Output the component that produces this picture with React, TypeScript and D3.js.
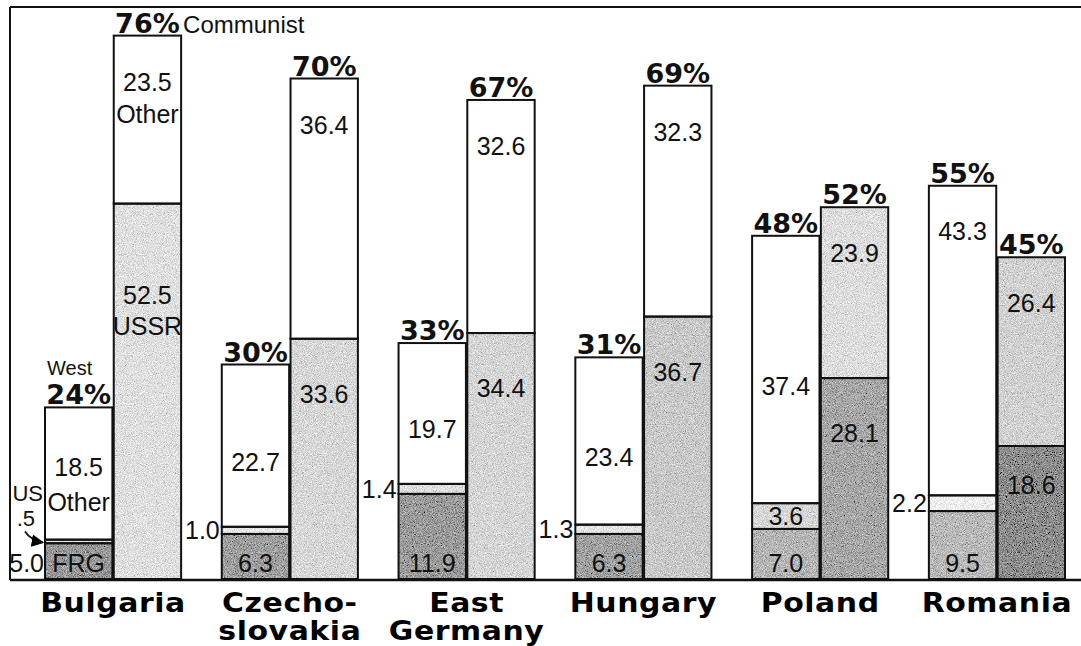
import { useEffect, useRef } from 'react';
import * as d3 from 'd3';

// trade shares (% of total), West vs Communist partners
const countries = ['Bulgaria', 'Czechoslovakia', 'East Germany', 'Hungary', 'Poland', 'Romania'];
const countryLines = [['Bulgaria'], ['Czecho-', 'slovakia'], ['East', 'Germany'], ['Hungary'], ['Poland'], ['Romania']];

const westFRG = [5.0, 6.3, 11.9, 6.3, 7.0, 9.5];
const westUS = [0.5, 1.0, 1.4, 1.3, 3.6, 2.2];
const westOther = [18.5, 22.7, 19.7, 23.4, 37.4, 43.3];
const westTotal = [24, 30, 33, 31, 48, 55];

const commUSSR = [52.5, 33.6, 34.4, 36.7, 28.1, 18.6];
const commOther = [23.5, 36.4, 32.6, 32.3, 23.9, 26.4];
const commTotal = [76, 70, 67, 69, 52, 45];

// print tones of each segment
const tones = {
  FRG: ['#9a9a9a', '#a0a0a0', '#9c9c9c', '#a2a2a2', '#b6b6b6', '#bababa'],
  US: ['#e4e4e4', '#e6e6e6', '#dedede', '#e4e4e4', '#d8d8d8', '#efefef'],
  WOther: ['#ffffff', '#ffffff', '#ffffff', '#ffffff', '#ffffff', '#ffffff'],
  USSR: ['#e0e0e0', '#d8d8d8', '#d6d6d6', '#cacaca', '#a8a8a8', '#8e8e8e'],
  COther: ['#ffffff', '#ffffff', '#ffffff', '#ffffff', '#dedede', '#d2d2d2']
};

const numFont = '"Liberation Sans", Arial, sans-serif';
const boldFont = '"DejaVu Sans", sans-serif';

function App() {
  const ref = useRef(null);

  useEffect(() => {
    const svg = d3.select(ref.current);
    svg.selectAll('*').remove();

    const fmt = d3.format('.1f');

    const x0 = d3.scaleBand().domain(countries).range([45, 1065]).paddingInner(0.23);
    const x1 = d3.scaleBand().domain(['West', 'Communist']).range([0, x0.bandwidth()]).paddingInner(0.02);
    const y = d3.scaleLinear().domain([0, 80]).range([579, 7]);

    const defs = svg.append('defs');
    const filter = defs.append('filter').attr('id', 'grain')
      .attr('x', 0).attr('y', 0).attr('width', 1).attr('height', 1);
    filter.append('feTurbulence').attr('type', 'fractalNoise').attr('baseFrequency', 1.1)
      .attr('numOctaves', 2).attr('seed', 4).attr('result', 'noise');
    filter.append('feColorMatrix').attr('in', 'noise').attr('type', 'matrix')
      .attr('values', '0.33 0.33 0.33 0 0  0.33 0.33 0.33 0 0  0.33 0.33 0.33 0 0  0 0 0 0 1')
      .attr('result', 'gray');
    filter.append('feComposite').attr('in', 'SourceGraphic').attr('in2', 'gray')
      .attr('operator', 'arithmetic').attr('k1', 0).attr('k2', 1).attr('k3', 1.5).attr('k4', -0.75);

    defs.append('marker').attr('id', 'arrow').attr('viewBox', '0 0 10 10')
      .attr('refX', 9).attr('refY', 5).attr('markerWidth', 7).attr('markerHeight', 7)
      .attr('orient', 'auto')
      .append('path').attr('d', 'M0,0 L10,5 L0,10 z').attr('fill', '#000');

    svg.append('rect').attr('width', 1081).attr('height', 646).attr('fill', '#fff');

    const westRows = countries.map((c, i) => ({ country: c, FRG: westFRG[i], US: westUS[i], WOther: westOther[i] }));
    const commRows = countries.map((c, i) => ({ country: c, USSR: commUSSR[i], COther: commOther[i] }));
    const westStack = d3.stack().keys(['FRG', 'US', 'WOther'])(westRows);
    const commStack = d3.stack().keys(['USSR', 'COther'])(commRows);

    const bars = svg.append('g');
    const drawStack = (stack, group) => {
      stack.forEach((series) => {
        series.forEach((d, i) => {
          const bx = x0(d.data.country) + x1(group);
          const tone = tones[series.key][i];
          const seg = bars.append('rect')
            .attr('x', bx).attr('y', y(d[1]))
            .attr('width', x1.bandwidth()).attr('height', y(d[0]) - y(d[1]))
            .attr('fill', tone);
          if (tone !== '#ffffff') seg.attr('filter', 'url(#grain)');
        });
      });
      stack.forEach((series) => {
        series.forEach((d) => {
          bars.append('rect')
            .attr('x', x0(d.data.country) + x1(group)).attr('y', y(d[1]))
            .attr('width', x1.bandwidth()).attr('height', y(d[0]) - y(d[1]))
            .attr('fill', 'none').attr('stroke', '#111').attr('stroke-width', 2);
        });
      });
    };
    drawStack(westStack, 'West');
    drawStack(commStack, 'Communist');

    // frame
    const frame = svg.append('g').attr('stroke', '#111').attr('stroke-width', 2);
    frame.append('line').attr('x1', 10).attr('x2', 1081).attr('y1', y(80)).attr('y2', y(80));
    frame.append('line').attr('x1', 10).attr('x2', 10).attr('y1', y(80)).attr('y2', y(0) + 1);
    frame.append('line').attr('x1', 10).attr('x2', 1081).attr('y1', y(0) + 1).attr('y2', y(0) + 1).attr('stroke-width', 2.5);

    const labels = svg.append('g').attr('font-family', numFont).attr('font-size', 25).attr('fill', '#111');
    const put = (txt, x, cy, anchor = 'middle', size = 25) =>
      labels.append('text').attr('x', x).attr('y', cy + size * 0.36)
        .attr('text-anchor', anchor).attr('font-size', size).text(txt);

    countries.forEach((c, i) => {
      const wx = x0(c) + x1('West');
      const cx = x0(c) + x1('Communist');
      const bw = x1.bandwidth();
      const wmid = wx + bw / 2;
      const cmid = cx + bw / 2;

      // West: FRG
      const frgTop = y(westFRG[i]);
      if (c === 'Bulgaria') {
        put('FRG', wmid, y(0) - 16);
        put(fmt(westFRG[i]), wx - 1, y(0) - 16, 'end');
      } else {
        put(fmt(westFRG[i]), wmid, y(0) - 16);
      }

      // West: US
      const usTop = y(westFRG[i] + westUS[i]);
      const usMid = (usTop + frgTop) / 2;
      if (c === 'Bulgaria') {
        put('US', wx - 2, usMid - 48, 'end', 22);
        put('.5', wx - 10, usMid - 23, 'end', 22);
        labels.append('path')
          .attr('d', `M${wx - 20},${usMid - 10} Q${wx - 14},${usMid - 1} ${wx - 2},${usMid + 1}`)
          .attr('fill', 'none').attr('stroke', '#111').attr('stroke-width', 1.8)
          .attr('marker-end', 'url(#arrow)');
      } else if (westUS[i] >= 3) {
        put(fmt(westUS[i]), wmid, usMid);
      } else {
        put(fmt(westUS[i]), wx - 2, usMid, 'end');
      }

      // West: Other
      const wTop = y(westTotal[i]);
      const wOtherMid = (wTop + usTop) / 2;
      if (c === 'Bulgaria') {
        put(fmt(westOther[i]), wmid, wOtherMid - 7);
        put('Other', wmid, wOtherMid + 28);
      } else if (c === 'Romania') {
        put(fmt(westOther[i]), wmid, wTop + 45);
      } else {
        put(fmt(westOther[i]), wmid, wOtherMid + 16);
      }

      // Communist: USSR
      const ussrTop = y(commUSSR[i]);
      if (c === 'Bulgaria') {
        put(fmt(commUSSR[i]), cmid, ussrTop + 91);
        put('USSR', cmid, ussrTop + 122);
      } else if (c === 'Romania') {
        put(fmt(commUSSR[i]), cmid, ussrTop + 39);
      } else {
        put(fmt(commUSSR[i]), cmid, ussrTop + 55);
      }

      // Communist: Other
      const cTop = y(commTotal[i]);
      put(fmt(commOther[i]), cmid, cTop + 46);
      if (c === 'Bulgaria') put('Other', cmid, cTop + 78);

      // totals
      svg.append('text').attr('x', wmid).attr('y', wTop - 3).attr('text-anchor', 'middle')
        .attr('font-family', boldFont).attr('font-weight', 'bold').attr('font-size', 27)
        .attr('fill', '#111').text(`${westTotal[i]}%`);
      svg.append('text').attr('x', cmid).attr('y', cTop - 3).attr('text-anchor', 'middle')
        .attr('font-family', boldFont).attr('font-weight', 'bold').attr('font-size', 27)
        .attr('fill', '#111').text(`${commTotal[i]}%`);

      if (c === 'Bulgaria') {
        svg.append('text').attr('x', cx + bw + 2).attr('y', cTop - 3)
          .attr('font-family', numFont).attr('font-size', 24).attr('fill', '#111').text('Communist');
        svg.append('text').attr('x', wx + 2).attr('y', wTop - 32)
          .attr('font-family', numFont).attr('font-size', 20).attr('fill', '#111').text('West');
      }

      // country name, wide bold face
      const name = svg.append('g')
        .attr('transform', `translate(${x0(c) + x0.bandwidth() / 2},0) scale(1.15,1)`)
        .append('text').attr('text-anchor', 'middle')
        .attr('font-family', boldFont).attr('font-weight', 'bold').attr('font-size', 26)
        .attr('letter-spacing', 0.5).attr('fill', '#000');
      countryLines[i].forEach((line, k) => {
        name.append('tspan').attr('x', 0).attr('y', 612 + k * 28).text(line);
      });
    });
  }, []);

  return (
    <svg ref={ref} width={1081} height={646}
      style={{ position: 'absolute', left: 0, top: 0, background: '#fff' }} />
  );
}

export default App;
